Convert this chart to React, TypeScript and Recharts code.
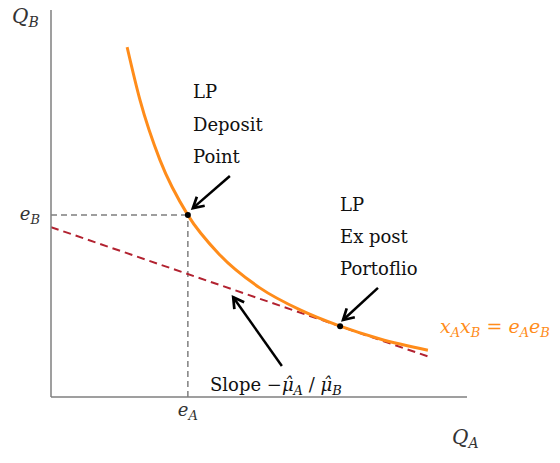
import React from 'react';
import { LineChart, Line, XAxis, YAxis, ReferenceLine, ReferenceDot } from 'recharts';

// curve x_A * x_B = e_A * e_B
const curveQA = [1.83, 2.14, 2.62, 3.29, 4.06, 5.02, 5.99, 6.95, 7.91, 9.06];
const curveQB = [9.04, 7.67, 6.12, 4.7, 3.67, 2.82, 2.25, 1.83, 1.5, 1.21];

// tangent line (slope -muA/muB)
const tangentQA = [0, 9.11];
const tangentQB = [4.39, 1.03];

// deposit point and ex-post point
const EA = 3.29;
const EB = 4.7;
const POST_QA = 6.95;
const POST_QB = 1.83;

// annotation arrows: [fromX, fromY, toX, toY]
const arrows = [
  [4.3, 5.71, 3.41, 4.88],
  [7.86, 2.82, 7.02, 1.99],
  [5.55, 0.8, 4.38, 2.58],
];

const curveData = curveQA.map((x, i) => ({ x, y: curveQB[i] }));
const tangentData = tangentQA.map((x, i) => ({ x, y: tangentQB[i] }));

const ORANGE = '#ff8c1a';
const RED = '#b22230';
const GRAY = '#7f7f7f';
const SERIF = '"DejaVu Serif", serif';

const XTick = (props: any) => (
  <text x={props.x} y={416} textAnchor="middle" fontFamily={SERIF} fontStyle="italic" fontSize={18} fill="#333">
    e<tspan dy={4} fontSize={13}>A</tspan>
  </text>
);

const YTick = (props: any) => (
  <text x={40} y={props.y + 5} textAnchor="end" fontFamily={SERIF} fontStyle="italic" fontSize={18} fill="#333">
    e<tspan dy={4} fontSize={13}>B</tspan>
  </text>
);

const arrowShape = (p: any) => (
  <line x1={p.x1} y1={p.y1} x2={p.x2} y2={p.y2} stroke="#000" strokeWidth={2.5} markerEnd="url(#arrowHead)" />
);

export default function App() {
  const txt = { fontFamily: SERIF, fontSize: 18, fill: '#111' };
  const mathTxt = { fontFamily: SERIF, fontStyle: 'italic' as const, fontSize: 19 };
  return (
    <div style={{ position: 'absolute', left: 0, top: 0, width: 560, height: 463, background: '#fff' }}>
      <LineChart width={560} height={463} margin={{ top: 10, right: 93, bottom: 36, left: 21 }}>
        <XAxis
          type="number"
          dataKey="x"
          domain={[0, 10]}
          allowDataOverflow
          ticks={[EA]}
          tick={XTick}
          tickLine={false}
          height={30}
          axisLine={{ stroke: GRAY, strokeWidth: 1.5 }}
        />
        <YAxis
          type="number"
          dataKey="y"
          domain={[0, 10]}
          allowDataOverflow
          ticks={[EB]}
          tick={YTick}
          tickLine={false}
          width={30}
          axisLine={{ stroke: GRAY, strokeWidth: 1.5 }}
        />
        <ReferenceLine segment={[{ x: 0, y: EB }, { x: EA, y: EB }]} stroke={GRAY} strokeWidth={1.5} strokeDasharray="6 4" />
        <ReferenceLine segment={[{ x: EA, y: 0 }, { x: EA, y: EB }]} stroke={GRAY} strokeWidth={1.5} strokeDasharray="6 4" />
        <Line data={tangentData} dataKey="y" type="linear" stroke={RED} strokeWidth={2} strokeDasharray="8 5" dot={false} isAnimationActive={false} />
        <Line data={curveData} dataKey="y" type="monotone" stroke={ORANGE} strokeWidth={3} dot={false} isAnimationActive={false} />
        <ReferenceDot x={EA} y={EB} r={3} fill="#000" stroke="none" />
        <ReferenceDot x={POST_QA} y={POST_QB} r={3} fill="#000" stroke="none" />
        {arrows.map((a, i) => (
          <ReferenceLine key={i} segment={[{ x: a[0], y: a[1] }, { x: a[2], y: a[3] }]} shape={arrowShape} />
        ))}
      </LineChart>
      <svg width={560} height={463} style={{ position: 'absolute', left: 0, top: 0, pointerEvents: 'none' }}>
        <defs>
          <marker id="arrowHead" viewBox="0 0 10 10" refX={8} refY={5} markerWidth={6} markerHeight={6} orient="auto">
            <path d="M1,1 L8,5 L1,9" fill="none" stroke="#000" strokeWidth={1.8} />
          </marker>
        </defs>
        <text x={12} y={23} {...mathTxt} fontSize={20} fill="#333">
          Q<tspan dy={4} fontSize={14}>B</tspan>
        </text>
        <text x={452} y={444} {...mathTxt} fontSize={20} fill="#333">
          Q<tspan dy={4} fontSize={14}>A</tspan>
        </text>
        <text x={193} y={98} {...txt}>LP</text>
        <text x={193} y={131} {...txt}>Deposit</text>
        <text x={193} y={163} {...txt}>Point</text>
        <text x={340} y={211} {...txt}>LP</text>
        <text x={340} y={243} {...txt}>Ex post</text>
        <text x={340} y={275} {...txt}>Portoflio</text>
        <text x={210} y={391} {...txt}>
          Slope −<tspan fontStyle="italic">μ̂</tspan>
          <tspan dy={4} fontSize={13} fontStyle="italic">A</tspan>
          <tspan dy={-4}> / </tspan>
          <tspan fontStyle="italic">μ̂</tspan>
          <tspan dy={4} fontSize={13} fontStyle="italic">B</tspan>
        </text>
        <text x={440} y={333} {...mathTxt} fill={ORANGE}>
          x<tspan dy={4} fontSize={13}>A</tspan>
          <tspan dy={-4}>x</tspan>
          <tspan dy={4} fontSize={13}>B</tspan>
          <tspan dy={-4} fontStyle="normal"> = </tspan>
          <tspan>e</tspan>
          <tspan dy={4} fontSize={13}>A</tspan>
          <tspan dy={-4}>e</tspan>
          <tspan dy={4} fontSize={13}>B</tspan>
        </text>
      </svg>
    </div>
  );
}
